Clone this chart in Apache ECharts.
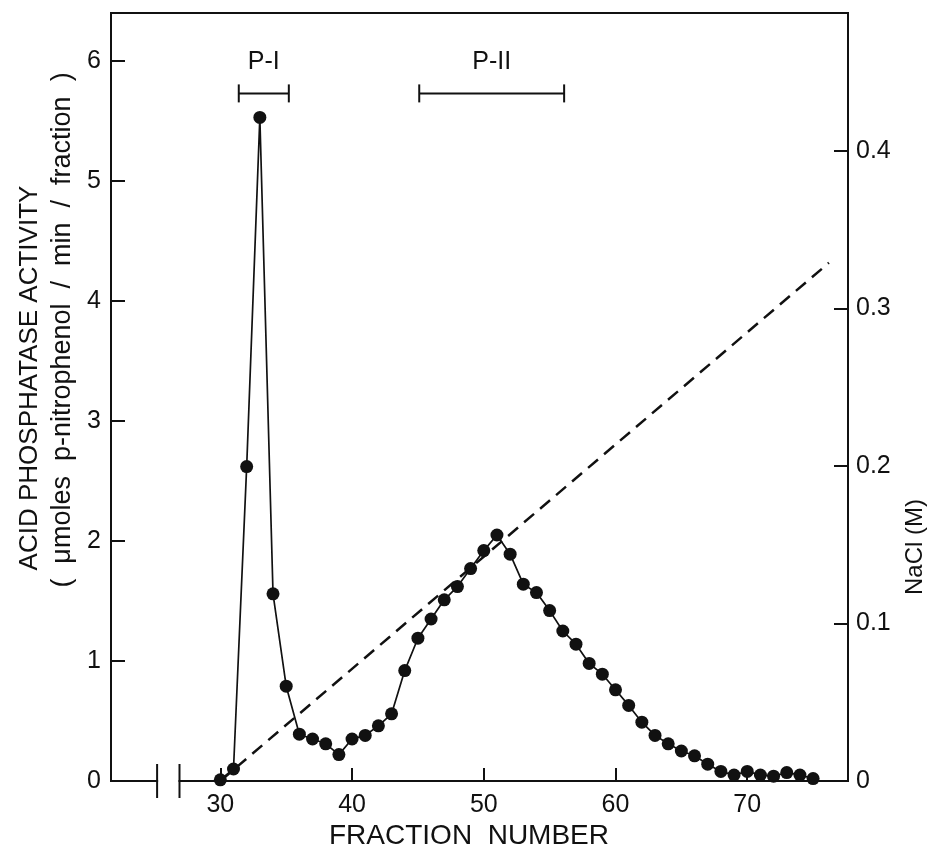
<!DOCTYPE html>
<html>
<head>
<meta charset="utf-8">
<script src="https://cdn.jsdelivr.net/npm/echarts@6/dist/echarts.min.js"></script>
<style>
html,body{margin:0;padding:0;background:#fff;}
#c{width:928px;height:854px;}
</style>
</head>
<body>
<div id="c"></div>
<script>
// ---- data ----
const fractions = [30,31,32,33,34,35,36,37,38,39,40,41,42,43,44,45,46,47,48,49,50,51,52,53,54,55,56,57,58,59,60,61,62,63,64,65,66,67,68,69,70,71,72,73,74,75];
const activity  = [0.01,0.10,2.62,5.53,1.56,0.79,0.39,0.35,0.31,0.22,0.35,0.38,0.46,0.56,0.92,1.19,1.35,1.51,1.62,1.77,1.92,2.05,1.89,1.64,1.57,1.42,1.25,1.14,0.98,0.89,0.76,0.63,0.49,0.38,0.31,0.25,0.21,0.14,0.08,0.05,0.08,0.05,0.04,0.07,0.05,0.02];
const gradientFractions = [30, 76.2];
const gradientNaCl = [0, 0.329];
const poolNames = ['P-I', 'P-II'];
const poolStart = [31.4, 45.1];
const poolEnd   = [35.2, 56.1];
const poolLevel = [5.73, 5.73];
const xTicks = [30, 40, 50, 60, 70];
const yLeftTicks = [0, 1, 2, 3, 4, 5, 6];
const yRightTicks = [0, 0.1, 0.2, 0.3, 0.4];
const xTitle = 'FRACTION  NUMBER';
const yLeftTitle1 = 'ACID PHOSPHATASE ACTIVITY';
const yLeftTitle2 = '(  μmoles  p-nitrophenol  /  min  /  fraction  )';
const yRightTitle = 'NaCl (M)';

// ---- chart ----
const FONT = '"Liberation Sans", Arial, sans-serif';
const INK = '#111';
const chart = echarts.init(document.getElementById('c'), null, {renderer: 'canvas'});

const activityData = fractions.map((f, i) => [f, activity[i]]);
const gradientData = gradientFractions.map((f, i) => [f, gradientNaCl[i]]);
const poolData = poolNames.map((n, i) => [poolStart[i], poolEnd[i], poolLevel[i], n]);

const option = {
  animation: false,
  backgroundColor: '#fff',
  grid: {left: 111, right: 80, top: 13, bottom: 73, show: true, borderColor: INK, borderWidth: 2, backgroundColor: 'transparent'},
  xAxis: {
    type: 'value', min: 21.7, max: 77.65,
    axisLine: {show: true, lineStyle: {color: INK, width: 2}},
    axisTick: {show: true, inside: true, length: 13, customValues: xTicks, lineStyle: {color: INK, width: 2}},
    axisLabel: {show: true, customValues: xTicks, color: INK, fontFamily: FONT, fontSize: 25, margin: 12},
    splitLine: {show: false}
  },
  yAxis: [
    {
      type: 'value', min: 0, max: 6.4, position: 'left',
      axisLine: {show: true, lineStyle: {color: INK, width: 2}},
      axisTick: {show: true, inside: true, length: 14, customValues: yLeftTicks, lineStyle: {color: INK, width: 2}},
      axisLabel: {show: true, customValues: yLeftTicks, color: INK, fontFamily: FONT, fontSize: 25, margin: 10},
      splitLine: {show: false}
    },
    {
      type: 'value', min: 0, max: 0.4876, position: 'right',
      axisLine: {show: true, lineStyle: {color: INK, width: 2}},
      axisTick: {show: true, inside: true, length: 14, customValues: yRightTicks, lineStyle: {color: INK, width: 2}},
      axisLabel: {show: true, customValues: yRightTicks, color: INK, fontFamily: FONT, fontSize: 25, margin: 8,
        formatter: v => (v === 0 ? '0' : v.toFixed(1))},
      splitLine: {show: false}
    }
  ],
  series: [
    {
      type: 'line', yAxisIndex: 1, data: gradientData, symbol: 'none', z: 2,
      lineStyle: {color: INK, width: 2.5, type: [13, 8]}
    },
    {
      type: 'line', yAxisIndex: 0, data: activityData, symbol: 'circle', symbolSize: 13, z: 3,
      itemStyle: {color: INK}, lineStyle: {color: INK, width: 1.7}
    },
    {
      type: 'custom', yAxisIndex: 0, data: poolData, z: 4, clip: false,
      encode: {x: [0, 1], y: 2},
      renderItem: function (params, api) {
        const p1 = api.coord([api.value(0), api.value(2)]);
        const p2 = api.coord([api.value(1), api.value(2)]);
        const name = poolNames[params.dataIndex];
        const st = {stroke: INK, lineWidth: 2};
        return {
          type: 'group',
          children: [
            {type: 'line', shape: {x1: p1[0], y1: p1[1], x2: p2[0], y2: p2[1]}, style: st},
            {type: 'line', shape: {x1: p1[0], y1: p1[1] - 9, x2: p1[0], y2: p1[1] + 9}, style: st},
            {type: 'line', shape: {x1: p2[0], y1: p2[1] - 9, x2: p2[0], y2: p2[1] + 9}, style: st},
            {type: 'text', style: {text: name, x: (p1[0] + p2[0]) / 2, y: p1[1] - 31, font: '25px ' + FONT,
              fill: INK, align: 'center', verticalAlign: 'middle', textAlign: 'center', textVerticalAlign: 'middle'}}
          ]
        };
      }
    }
  ]
};
chart.setOption(option);

// decorations: axis titles and the x-axis break
const breakFrom = 25.2, breakTo = 26.9;
const xa = chart.convertToPixel({xAxisIndex: 0}, breakFrom);
const xb = chart.convertToPixel({xAxisIndex: 0}, breakTo);
const y0 = chart.convertToPixel({yAxisIndex: 0}, 0);
chart.setOption({
  graphic: [
    {type: 'rect', shape: {x: xa + 1, y: y0 - 3, width: xb - xa - 2, height: 6}, style: {fill: '#fff'}, z: 100},
    {type: 'line', shape: {x1: xa, y1: y0 - 17, x2: xa, y2: y0 + 17}, style: {stroke: INK, lineWidth: 2}, z: 101},
    {type: 'line', shape: {x1: xb, y1: y0 - 17, x2: xb, y2: y0 + 17}, style: {stroke: INK, lineWidth: 2}, z: 101},
    {type: 'text', x: 469, y: 836, style: {text: xTitle, font: '28px ' + FONT, fill: INK, align: 'center', verticalAlign: 'middle'}, z: 101},
    {type: 'text', x: 30, y: 378, rotation: Math.PI / 2, style: {text: yLeftTitle1, font: '26px ' + FONT, fill: INK, align: 'center', verticalAlign: 'middle'}, z: 101},
    {type: 'text', x: 63, y: 330, rotation: Math.PI / 2, style: {text: yLeftTitle2, font: '27px ' + FONT, fill: INK, align: 'center', verticalAlign: 'middle'}, z: 101},
    {type: 'text', x: 915, y: 547, rotation: Math.PI / 2, style: {text: yRightTitle, font: '24px ' + FONT, fill: INK, align: 'center', verticalAlign: 'middle'}, z: 101}
  ]
});
</script>
</body>
</html>
